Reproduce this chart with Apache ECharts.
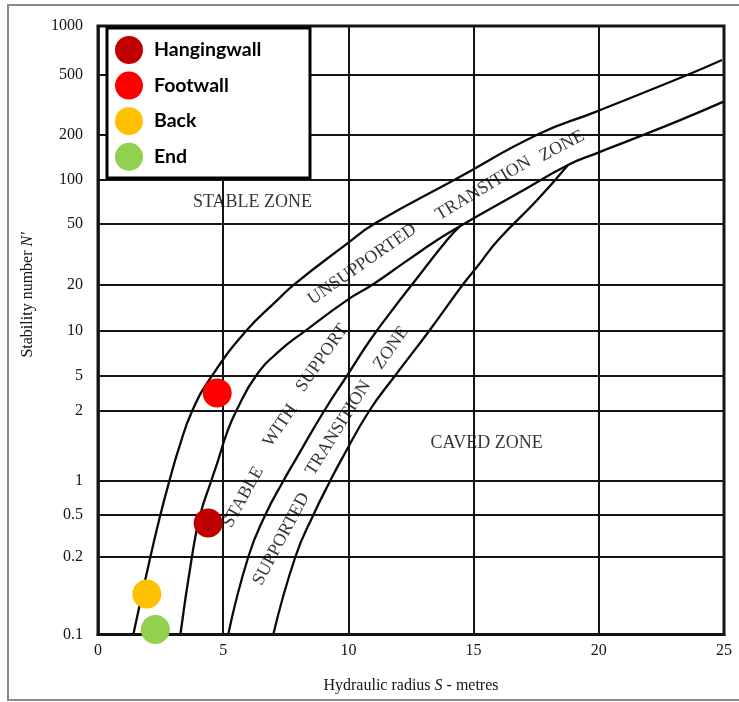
<!DOCTYPE html>
<html><head><meta charset="utf-8">
<script src="https://cdn.jsdelivr.net/npm/echarts@6/dist/echarts.min.js"></script>
<style>html,body{margin:0;padding:0;background:#fff}#c{width:739px;height:702px}</style>
</head><body><div id="c"></div>
<script>
// ---- tick labels (stability number N') ----
const yTickValues = [0.1, 0.2, 0.5, 1, 2, 5, 10, 20, 50, 100, 200, 500, 1000];
const yTickLabels = ['0.1','0.2','0.5','1','2','5','10','20','50','100','200','500','1000'];
// the printed chart spaces its N' ticks unevenly; axis breakpoints (axis units)
const yAxisBreaks = [0, 77.5, 119.5, 153.5, 223.5, 259, 303.7, 350.2, 411.2, 455, 500.2, 559.5, 608.5];

// ---- zone boundary curves [S, N'] ----
const curveStableUpper = [[1.41,0.1],[2.09,0.2],[2.49,0.5],[2.85,1],[3.21,1.36],[3.76,2],[4.56,5],[5.92,10],[7.16,15.8],[7.84,20],[9.87,36],[11.07,50],[14.26,100],[17.58,200],[19.85,282],[23.53,500],[24.92,618]];
const curveUnsupportedLower = [[3.29,0.1],[3.75,0.2],[4.08,0.5],[4.52,1],[4.80,1.23],[5.12,1.58],[5.52,2],[6.32,5],[7.28,7.4],[8.28,10],[9.95,15.8],[10.99,20],[12.27,28],[13.55,38.9],[14.47,48],[16.86,82],[18.77,125],[19.93,150],[21.25,183],[23.25,249],[24.96,330]];
const curveSupportedUpper = [[5.2,0.1],[6.0,0.2],[6.68,0.5],[7.40,1],[7.88,1.23],[9.03,2],[9.95,5],[10.87,8.67],[11.75,13.6],[12.55,20],[13.94,38.9],[14.47,48]];
const curveSupportedLower = [[7.0,0.1],[7.88,0.2],[8.6,0.5],[9.27,1],[9.71,1.23],[10.83,2],[11.87,5],[13.23,10],[14.58,20],[15.14,26],[15.98,38.9],[17.53,72],[18.77,125]];

// ---- observed points ----
const pointNames = ['Hangingwall', 'Footwall', 'Back', 'End'];
const pointS = [4.40, 4.76, 1.95, 2.29];
const pointN = [0.42, 3.18, 0.1435, 0.1045];
const pointColors = ['#C00000', '#FF0000', '#FFC000', '#92D050'];

// ---- zone labels ----
const zoneText = ['STABLE ZONE','CAVED ZONE','UNSUPPORTED','TRANSITION','ZONE','STABLE','WITH','SUPPORT','SUPPORTED','TRANSITION','ZONE'];
const zoneS = [6.17, 15.52, 10.55, 15.39, 18.53, 5.8, 7.28, 8.95, 7.32, 9.6, 11.71];
const zoneN = [70, 1.45, 27, 87, 167, 0.72, 1.73, 6.56, 0.296, 1.69, 7.66];
const zoneAngle = [0, 0, 35, 31, 28, 61, 56, 55, 62, 58, 55];

function yPos(n) {
  const L = Math.log10;
  if (n <= yTickValues[0]) return yAxisBreaks[0];
  for (let i = 0; i < yTickValues.length - 1; i++) {
    const a = yTickValues[i], b = yTickValues[i + 1];
    if (n <= b) {
      const f = (L(n) - L(a)) / (L(b) - L(a));
      return yAxisBreaks[i] + f * (yAxisBreaks[i + 1] - yAxisBreaks[i]);
    }
  }
  return yAxisBreaks[yAxisBreaks.length - 1];
}
function tickLabel(v) {
  for (let i = 0; i < yTickValues.length; i++) {
    if (Math.abs(yPos(yTickValues[i]) - v) < 0.01) return yTickLabels[i];
  }
  return '';
}
const conv = arr => arr.map(p => [p[0], yPos(p[1])]);
const SERIF = '"Liberation Serif", "Times New Roman", serif';
const ink = '#141414';

const curveSeries = [curveStableUpper, curveUnsupportedLower, curveSupportedUpper, curveSupportedLower].map(c => ({
  type: 'line', data: conv(c), smooth: 0.5, showSymbol: false, symbol: 'none',
  lineStyle: { color: '#0a0a0a', width: 2.3 }, z: 3, silent: true
}));

const zoneSeries = {
  type: 'scatter', symbolSize: 0, silent: true, z: 4,
  data: zoneText.map((t, i) => ({
    value: [zoneS[i], yPos(zoneN[i])],
    label: { show: true, position: 'inside', formatter: t, rotate: zoneAngle[i],
      fontFamily: SERIF, fontSize: 18, color: '#000', textBorderWidth: 0 }
  }))
};

const pointSeries = pointNames.map((name, i) => ({
  type: 'scatter', name: name, data: [[pointS[i], yPos(pointN[i])]],
  symbol: 'circle', symbolSize: 29, itemStyle: { color: pointColors[i], opacity: 1 }, z: 6
}));

const yTickPositions = yTickValues.map(yPos);

const chart = echarts.init(document.getElementById('c'));
chart.setOption({
  animation: false,
  backgroundColor: '#fff',
  grid: { left: 98, right: 15, top: 26, bottom: 67.5, show: true, borderColor: ink, borderWidth: 3 },
  xAxis: {
    type: 'value', min: 0, max: 25, interval: 5,
    name: '{n|Hydraulic radius }{i|S}{n| - metres}', nameLocation: 'middle', nameGap: 43,
    nameTextStyle: { rich: { n: { fontFamily: SERIF, fontSize: 16, color: ink }, i: { fontFamily: SERIF, fontSize: 16, fontStyle: 'italic', color: ink } } },
    axisLine: { show: true, lineStyle: { color: ink, width: 3 } },
    axisTick: { show: false },
    axisLabel: { fontFamily: SERIF, fontSize: 16, color: ink, margin: 8 },
    splitLine: { show: true, lineStyle: { color: ink, width: 2 } }
  },
  yAxis: {
    type: 'value', min: 0, max: yPos(1000),
    axisLine: { show: true, lineStyle: { color: ink, width: 2.5 } },
    axisTick: { show: false, customValues: yTickPositions },
    axisLabel: { customValues: yTickPositions, formatter: v => tickLabel(v), fontFamily: SERIF, fontSize: 16, color: ink, margin: 15 },
    splitLine: { show: true, lineStyle: { color: ink, width: 2 } }
  },
  legend: {
    data: pointNames, orient: 'vertical', left: 115, top: 36, padding: 0,
    itemWidth: 28, itemHeight: 28, itemGap: 7.6, icon: 'circle', z: 60,
    textStyle: { fontFamily: 'Lato, "Open Sans", sans-serif', fontWeight: 'bold', fontSize: 19.5, color: '#000', padding: [0, 0, 0, 6] }
  },
  graphic: [
    { type: 'rect', z: 50, shape: { x: 107, y: 28, width: 203, height: 150 }, style: { fill: '#fff', stroke: '#000', lineWidth: 3 } },
    { type: 'rect', z: 1, silent: true, shape: { x: 8, y: 5, width: 745, height: 695 }, style: { fill: 'none', stroke: '#8a8a8a', lineWidth: 2 } },
    { type: 'text', z: 10, x: 28, y: 295, rotation: Math.PI / 2,
      style: { text: '{n|Stability number }{i|N\'}', textAlign: 'center', textVerticalAlign: 'middle',
        rich: { n: { fontFamily: SERIF, fontSize: 16, fill: ink }, i: { fontFamily: SERIF, fontSize: 16, fontStyle: 'italic', fill: ink } } } }
  ],
  series: [...curveSeries, zoneSeries, ...pointSeries]
});
</script></body></html>
